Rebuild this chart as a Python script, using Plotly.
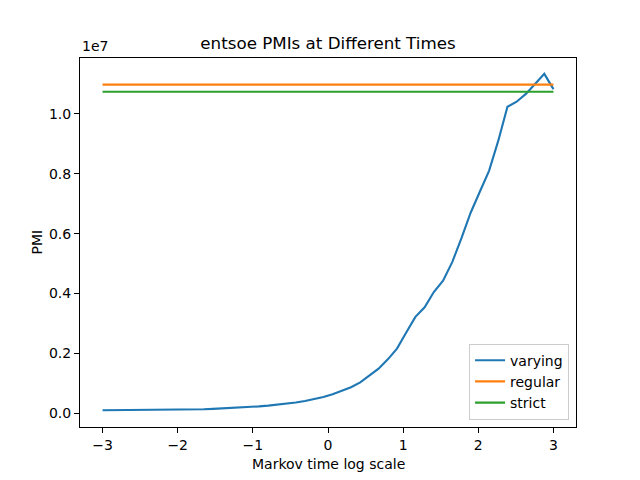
import plotly.graph_objects as go

# Markov time (log10 scale), 50 evenly spaced samples from -3 to 3
markov_time = [
    -3.000, -2.878, -2.755, -2.633, -2.510, -2.388, -2.265, -2.143, -2.020, -1.898,
    -1.776, -1.653, -1.531, -1.408, -1.286, -1.163, -1.041, -0.918, -0.796, -0.673,
    -0.551, -0.429, -0.306, -0.184, -0.061, 0.061, 0.184, 0.306, 0.429, 0.551,
    0.673, 0.796, 0.918, 1.041, 1.163, 1.286, 1.408, 1.531, 1.653, 1.776,
    1.898, 2.020, 2.143, 2.265, 2.388, 2.510, 2.633, 2.755, 2.878, 3.000,
]
varying_pmi = [
    1.00e5, 1.01e5, 1.02e5, 1.03e5, 1.05e5, 1.07e5, 1.10e5, 1.13e5, 1.17e5, 1.21e5,
    1.26e5, 1.32e5, 1.45e5, 1.57e5, 1.70e5, 1.86e5, 2.05e5, 2.28e5, 2.55e5, 2.85e5,
    3.20e5, 3.60e5, 4.10e5, 4.70e5, 5.45e5, 6.35e5, 7.40e5, 8.70e5, 1.03e6, 1.25e6,
    1.49e6, 1.80e6, 2.16e6, 2.70e6, 3.22e6, 3.54e6, 4.05e6, 4.43e6, 5.05e6, 5.85e6,
    6.70e6, 7.40e6, 8.10e6, 9.10e6, 1.024e7, 1.041e7, 1.067e7, 1.100e7, 1.134e7, 1.083e7,
]
regular_x = [-3.0, 3.0]
regular_pmi = [1.098e7, 1.098e7]
strict_x = [-3.0, 3.0]
strict_pmi = [1.074e7, 1.074e7]

x_ticks = [-3, -2, -1, 0, 1, 2, 3]
x_ticktext = ["\u22123", "\u22122", "\u22121", "0", "1", "2", "3"]
y_ticks = [0, 2e6, 4e6, 6e6, 8e6, 1e7]
y_ticktext = ["0.0", "0.2", "0.4", "0.6", "0.8", "1.0"]

FONT = "DejaVu Sans"

fig = go.Figure()
fig.add_trace(go.Scatter(x=markov_time, y=varying_pmi, mode="lines", name="varying",
                         line=dict(color="#1f77b4", width=2.1)))
fig.add_trace(go.Scatter(x=regular_x, y=regular_pmi, mode="lines", name="regular",
                         line=dict(color="#ff7f0e", width=2.1)))
fig.add_trace(go.Scatter(x=strict_x, y=strict_pmi, mode="lines", name="strict",
                         line=dict(color="#2ca02c", width=2.1)))

axis_common = dict(showline=True, mirror=True, linecolor="black", linewidth=1.1,
                   ticks="outside", ticklen=5, tickwidth=1.1, tickcolor="black",
                   showgrid=False, zeroline=False,
                   tickfont=dict(family=FONT, size=14, color="black"))

fig.update_xaxes(range=[-3.3, 3.3], tickvals=x_ticks, ticktext=x_ticktext, **axis_common)
fig.update_yaxes(range=[-4.6e5, 1.187e7], tickvals=y_ticks, ticktext=y_ticktext, **axis_common)

fig.update_layout(
    width=640, height=480,
    margin=dict(l=80, r=64, t=58, b=53),
    paper_bgcolor="white", plot_bgcolor="white",
    font=dict(family=FONT, size=14, color="black"),
    title=dict(text="entsoe PMIs at Different Times", x=(80 + 248) / 640, xanchor="center",
               y=1 - 43 / 480, yanchor="middle", yref="container",
               font=dict(family=FONT, size=16.7, color="black")),
    showlegend=True,
    legend=dict(x=0.986, y=0.02, xanchor="right", yanchor="bottom",
                bgcolor="rgba(255,255,255,0.8)", bordercolor="#cccccc", borderwidth=1,
                font=dict(family=FONT, size=14, color="black"),
                tracegroupgap=0, itemwidth=30),
    annotations=[
        dict(text="Markov time log scale", x=0.5, y=0, xref="paper", yref="paper",
             xanchor="center", yanchor="top", yshift=-27, showarrow=False,
             font=dict(family=FONT, size=14, color="black")),
        dict(text="PMI", x=0, y=0.5, xref="paper", yref="paper", textangle=-90,
             xanchor="center", yanchor="middle", xshift=-44, showarrow=False,
             font=dict(family=FONT, size=14, color="black")),
        dict(text="1e7", x=0, y=1, xref="paper", yref="paper",
             xanchor="left", yanchor="bottom", yshift=2, showarrow=False,
             font=dict(family=FONT, size=14, color="black")),
    ],
)

fig.write_html("out.html", config={"displayModeBar": False},
               post_script="document.body.style.margin='0px';")
